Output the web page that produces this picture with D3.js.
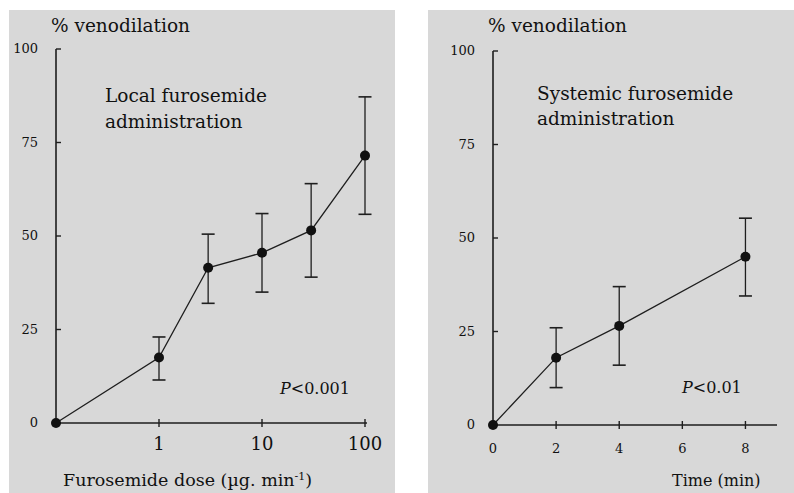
<!DOCTYPE html>
<html>
<head>
<meta charset="utf-8">
<script src="https://cdn.jsdelivr.net/npm/d3@7"></script>
<style>
  body { margin: 0; background: #fff; }
  svg { display: block; }
  text { font-family: "DejaVu Serif", serif; fill: #111; }
</style>
</head>
<body>
<div id="chart"></div>
<script>
// local furosemide: dose (µg/min), 0 is drawn at the axis origin
var localDose = [0, 1, 3, 10, 30, 100];
var localMean = [0, 17.5, 41.5, 45.5, 51.5, 71.5];
var localLow  = [0, 11.5, 32, 35, 39, 55.8];
var localHigh = [0, 23, 50.5, 56, 64, 87.2];

// systemic furosemide: time (min)
var sysTime = [0, 2, 4, 8];
var sysMean = [0, 18, 26.5, 45];
var sysLow  = [0, 10, 16, 34.5];
var sysHigh = [0, 26, 37, 55.3];

var yTicks = [0, 25, 50, 75, 100];
var localTicks = [1, 10, 100];
var timeTicks = [0, 2, 4, 6, 8];

var W = 794, H = 493;
var ink = '#1e1e1e';

var svg = d3.select('#chart').append('svg')
    .attr('width', W)
    .attr('height', H);

// panel backgrounds
svg.append('rect').attr('x', 9).attr('y', 10).attr('width', 386).attr('height', H - 10).attr('fill', '#d8d8d8');
svg.append('rect').attr('x', 428).attr('y', 10).attr('width', W - 428).attr('height', H - 10).attr('fill', '#d8d8d8');

function drawPanel(opt) {
    var g = svg.append('g');
    var x = opt.x, y = opt.y;

    // y axis
    g.append('line')
        .attr('x1', x.range()[0]).attr('x2', x.range()[0])
        .attr('y1', y(0)).attr('y2', y(100))
        .attr('stroke', ink).attr('stroke-width', 1.6);
    g.selectAll('.ytick').data(yTicks).enter().append('line')
        .attr('x1', x.range()[0]).attr('x2', x.range()[0] + 5)
        .attr('y1', d => y(d)).attr('y2', d => y(d))
        .attr('stroke', ink).attr('stroke-width', 1.4);
    g.selectAll('.ylab').data(yTicks).enter().append('text')
        .attr('x', x.range()[0] - 18)
        .attr('y', d => y(d) + 4)
        .attr('text-anchor', 'end')
        .style('font-size', '13px')
        .text(d => d);

    // x axis
    g.append('line')
        .attr('x1', x.range()[0]).attr('x2', opt.xEnd)
        .attr('y1', y(0)).attr('y2', y(0))
        .attr('stroke', ink).attr('stroke-width', 1.6);
    g.selectAll('.xtick').data(opt.xTicks).enter().append('line')
        .attr('x1', d => x(d)).attr('x2', d => x(d))
        .attr('y1', y(0) - 4).attr('y2', y(0) + 4)
        .attr('stroke', ink).attr('stroke-width', 1.4);
    g.selectAll('.xlab').data(opt.xTicks).enter().append('text')
        .attr('x', d => x(d))
        .attr('y', y(0) + opt.xLabOff)
        .attr('text-anchor', 'middle')
        .style('font-size', opt.xLabSize)
        .text(d => d);

    // y title
    g.append('text')
        .attr('x', x.range()[0] - 5).attr('y', 32)
        .style('font-size', '18.5px')
        .text('% venodilation');

    // error bars
    var pts = opt.xs.map((d, i) => ({ x: d, m: opt.mean[i], lo: opt.low[i], hi: opt.high[i] }));
    var eb = pts.filter(d => d.hi > d.lo);
    g.selectAll('.eb').data(eb).enter().append('line')
        .attr('x1', d => opt.px(d.x)).attr('x2', d => opt.px(d.x))
        .attr('y1', d => y(d.lo)).attr('y2', d => y(d.hi))
        .attr('stroke', ink).attr('stroke-width', 1.3);
    ['lo', 'hi'].forEach(k => {
        g.selectAll('.cap' + k).data(eb).enter().append('line')
            .attr('x1', d => opt.px(d.x) - 6.5).attr('x2', d => opt.px(d.x) + 6.5)
            .attr('y1', d => y(d[k])).attr('y2', d => y(d[k]))
            .attr('stroke', ink).attr('stroke-width', 1.6);
    });

    // line + dots
    g.append('path')
        .datum(pts)
        .attr('d', d3.line().x(d => opt.px(d.x)).y(d => y(d.m)))
        .attr('fill', 'none').attr('stroke', ink).attr('stroke-width', 1.3);
    g.selectAll('.dot').data(pts).enter().append('circle')
        .attr('cx', d => opt.px(d.x)).attr('cy', d => y(d.m))
        .attr('r', 5).attr('fill', '#111');

    return g;
}

// left panel: log dose
var xLog = d3.scaleLog().domain([0.1, 100]).range([56, 365]);
var yL = d3.scaleLinear().domain([0, 100]).range([423, 49]);
var gL = drawPanel({
    x: xLog, y: yL, xEnd: 367,
    xTicks: localTicks, xLabOff: 27, xLabSize: '18px',
    xs: localDose, mean: localMean, low: localLow, high: localHigh,
    px: d => xLog(d === 0 ? 0.1 : d)
});
gL.append('text').attr('x', 105).attr('y', 102).style('font-size', '18.5px').text('Local furosemide');
gL.append('text').attr('x', 105).attr('y', 128).style('font-size', '18.5px').text('administration');
var pL = gL.append('text').attr('x', 280).attr('y', 394).style('font-size', '16px');
pL.append('tspan').style('font-style', 'italic').text('P');
pL.append('tspan').text('<0.001');
var xtL = gL.append('text').attr('x', 63).attr('y', 486).style('font-size', '17.5px');
xtL.append('tspan').text('Furosemide dose (µg. min');
xtL.append('tspan').attr('dy', -6).style('font-size', '11px').text('-1');
xtL.append('tspan').attr('dy', 6).text(')');

// right panel: time
var xT = d3.scaleLinear().domain([0, 9]).range([493, 777]);
var yR = d3.scaleLinear().domain([0, 100]).range([425, 51]);
var gR = drawPanel({
    x: xT, y: yR, xEnd: 777,
    xTicks: timeTicks, xLabOff: 28, xLabSize: '13px',
    xs: sysTime, mean: sysMean, low: sysLow, high: sysHigh,
    px: d => xT(d)
});
gR.append('text').attr('x', 537).attr('y', 100).style('font-size', '18.5px').text('Systemic furosemide');
gR.append('text').attr('x', 537).attr('y', 125).style('font-size', '18.5px').text('administration');
var pR = gR.append('text').attr('x', 682).attr('y', 393).style('font-size', '16px');
pR.append('tspan').style('font-style', 'italic').text('P');
pR.append('tspan').text('<0.01');
gR.append('text').attr('x', 672).attr('y', 486).style('font-size', '16px').text('Time (min)');
</script>
</body>
</html>
